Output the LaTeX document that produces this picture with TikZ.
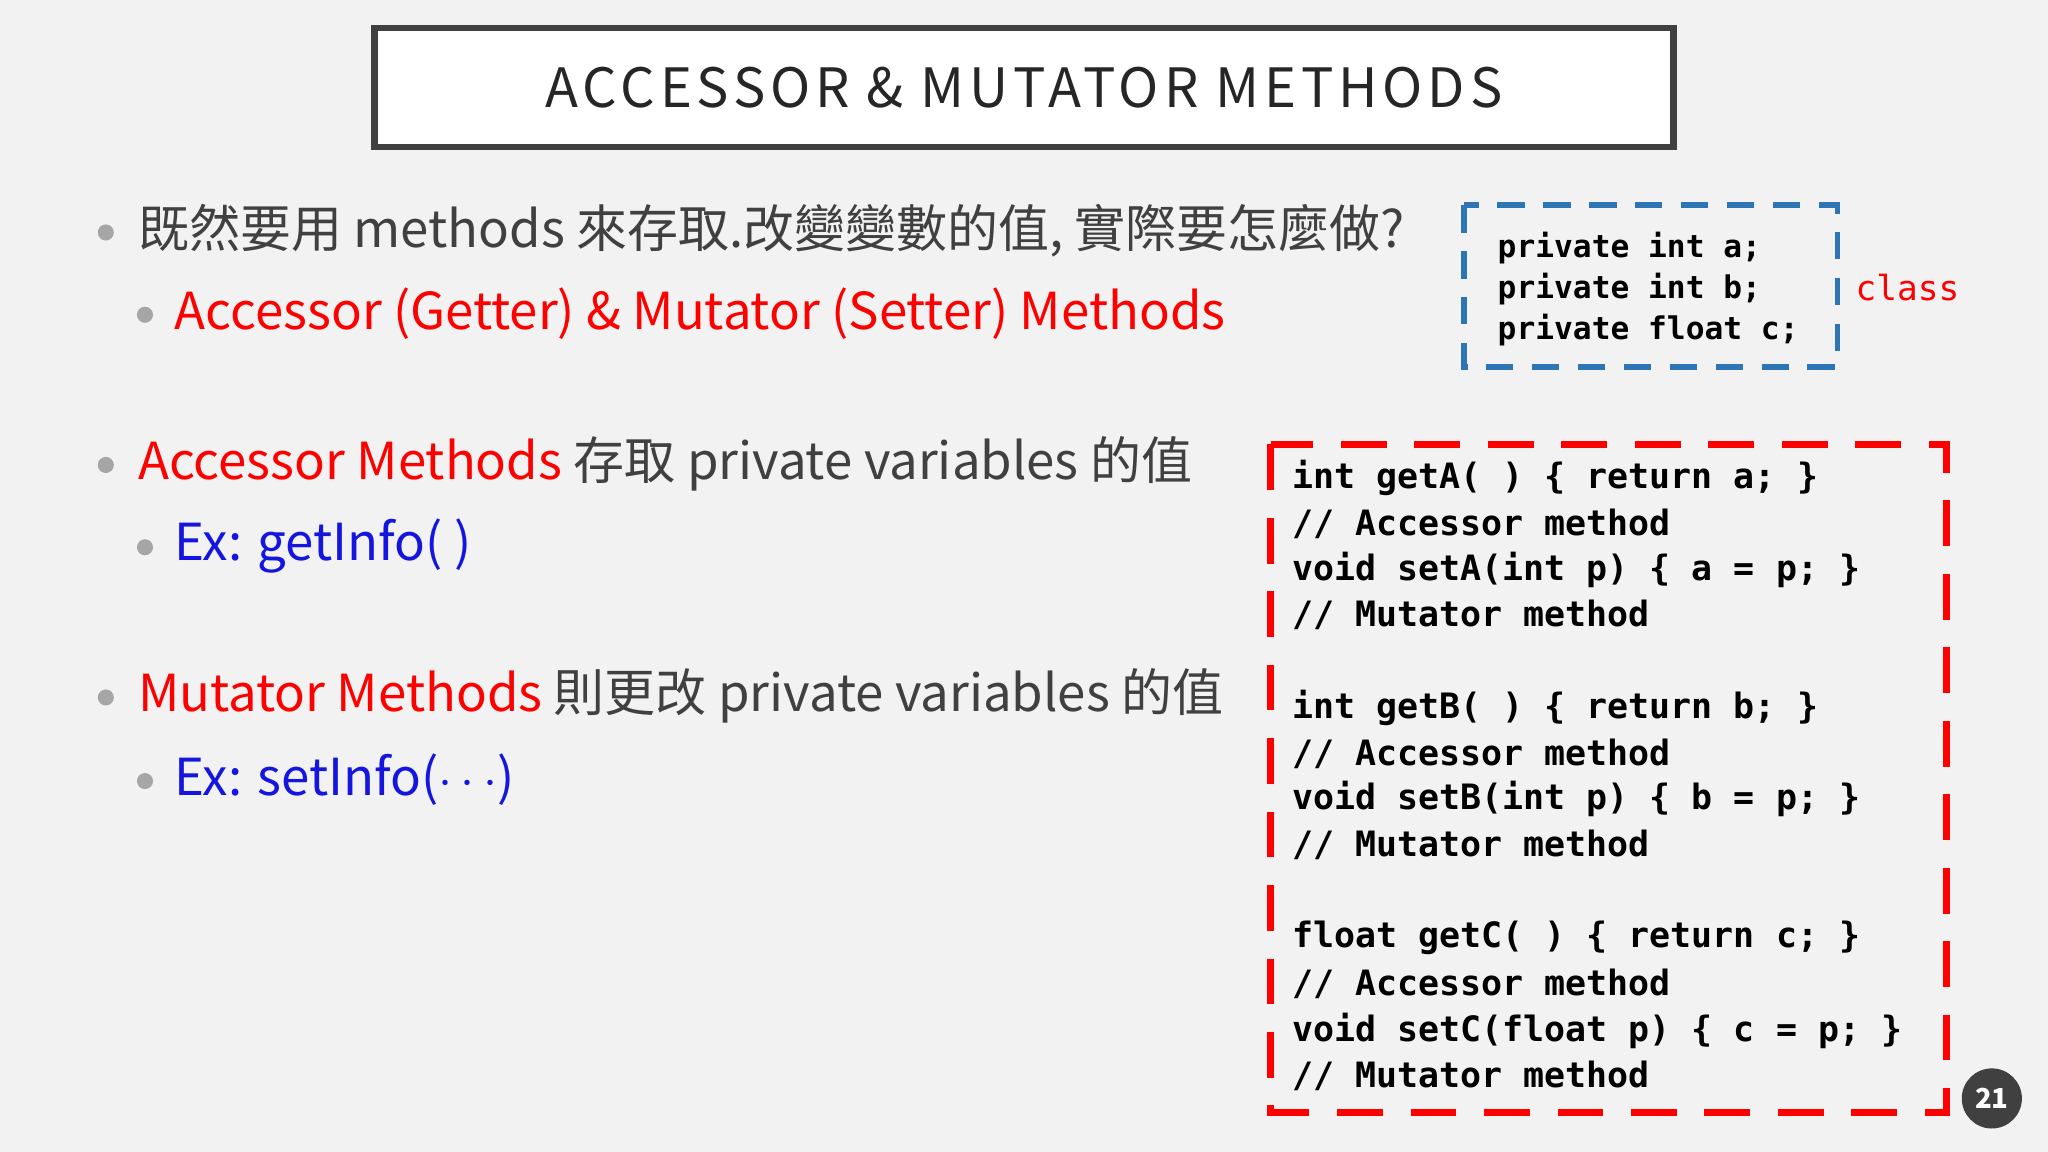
\documentclass[tikz,border=0pt]{standalone}
\usepackage{fontspec}
\setmainfont{Noto Sans CJK TC}
\setmonofont{DejaVu Sans Mono}
\usetikzlibrary{positioning}
\definecolor{bg}{HTML}{F2F2F2}
\definecolor{ink}{HTML}{404040}
\definecolor{hired}{HTML}{FF0000}
\definecolor{hiblue}{HTML}{1515E0}
\definecolor{boxblue}{HTML}{2E75B6}
\definecolor{dotgray}{HTML}{A6A6A6}
\begin{document}
\begin{tikzpicture}[x=0.01cm,y=-0.01cm,
  bullet/.style={circle,fill=dotgray,inner sep=0pt,minimum size=3.5pt},
  item/.style={anchor=west,inner sep=0pt,text=ink,font=\fontsize{11.1}{13}\selectfont},
  code/.style={anchor=west,inner sep=0pt,font=\ttfamily\bfseries\fontsize{7.6}{9}\selectfont,text=black},
  varcode/.style={code,font=\ttfamily\bfseries\fontsize{6.8}{8}\selectfont}]
  \fill[bg] (0,0) rectangle (1568,882);
  \useasboundingbox (0,0) rectangle (1568,882);

  % title
  \node[draw=ink,line width=1.5pt,fill=white,minimum width=9.94cm,minimum height=0.91cm] (title) at (784,67)
    {\fontsize{11.8}{14}\selectfont\addfontfeatures{LetterSpace=9}\color{black!85}ACCESSOR \& MUTATOR METHODS};

  % bullets
  \node[bullet] (b1) at (81,178) {};
  \node[item] (t1) at (105,177) {既然要用 methods 來存取.改變變數的值, 實際要怎麼做?};
  \node[bullet] (b2) at (111,241) {};
  \node[item,text=hired] (t2) at (133,240) {Accessor (Getter) \& Mutator (Setter) Methods};
  \node[bullet] (b3) at (81,356) {};
  \node[item] (t3) at (105,355) {\textcolor{hired}{Accessor Methods} 存取 private variables 的值};
  \node[bullet] (b4) at (111,419) {};
  \node[item,text=hiblue] (t4) at (133,418) {Ex: getInfo( )};
  \node[bullet] (b5) at (81,534) {};
  \node[item] (t5) at (105,533) {\textcolor{hired}{Mutator Methods} 則更改 private variables 的值};
  \node[bullet] (b6) at (111,598) {};
  \node[item,text=hiblue] (t6) at (133,597) {Ex: setInfo(\ensuremath{\cdots})};

  % class box
  \draw[boxblue,line width=1.2pt,dash pattern=on 6pt off 4pt] (1121,157) rectangle (1407,281);
  \node[varcode] (v1) at (1146,190) {private int a;};
  \node[varcode] (v2) at (1146,221) {private int b;};
  \node[varcode] (v3) at (1146,253) {private float c;};
  \node[anchor=west,inner sep=0pt,text=hired,font=\ttfamily\fontsize{7.5}{9}\selectfont] (cls) at (1420,220) {class};

  % methods box
  \draw[hired,line width=1.5pt,dash pattern=on 10pt off 6pt] (973,340) rectangle (1490,852);
  \node[code] (m1) at (989,366) {int getA( ) \{ return a; \}};
  \node[code] (m2) at (989,401) {// Accessor method};
  \node[code] (m3) at (989,436) {void setA(int p) \{ a = p; \}};
  \node[code] (m4) at (989,471) {// Mutator method};
  \node[code] (m5) at (989,542) {int getB( ) \{ return b; \}};
  \node[code] (m6) at (989,577) {// Accessor method};
  \node[code] (m7) at (989,612) {void setB(int p) \{ b = p; \}};
  \node[code] (m8) at (989,647) {// Mutator method};
  \node[code] (m9) at (989,718) {float getC( ) \{ return c; \}};
  \node[code] (m10) at (989,753) {// Accessor method};
  \node[code] (m11) at (989,789) {void setC(float p) \{ c = p; \}};
  \node[code] (m12) at (989,824) {// Mutator method};

  % page number
  \node[circle,fill=ink,minimum size=0.46cm,inner sep=0pt,text=white,font=\bfseries\fontsize{6}{7}\selectfont] (page) at (1525,841) {21};
\end{tikzpicture}
\end{document}
